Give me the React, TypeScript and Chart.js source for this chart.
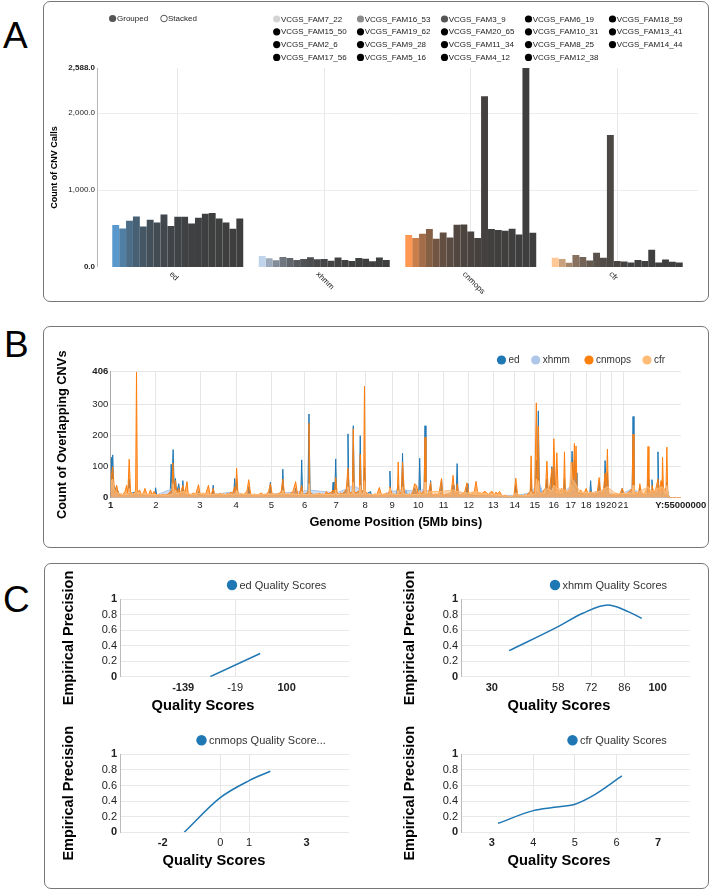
import React, { useEffect, useRef } from 'react';
import { Chart, registerables } from 'chart.js';
Chart.register(...registerables);

const FONT = "'Liberation Sans', Arial, Helvetica, sans-serif";

// ---------- Panel A data ----------
const categories = ['ed', 'xhmm', 'cnmops', 'cfr'];
const families = [
  'VCGS_FAM7_22', 'VCGS_FAM16_53', 'VCGS_FAM3_9', 'VCGS_FAM6_19', 'VCGS_FAM18_59',
  'VCGS_FAM15_50', 'VCGS_FAM19_62', 'VCGS_FAM20_65', 'VCGS_FAM10_31', 'VCGS_FAM13_41',
  'VCGS_FAM2_6', 'VCGS_FAM9_28', 'VCGS_FAM11_34', 'VCGS_FAM8_25', 'VCGS_FAM14_44',
  'VCGS_FAM17_56', 'VCGS_FAM5_16', 'VCGS_FAM4_12', 'VCGS_FAM12_38',
];
const edCalls = [545, 502, 602, 658, 528, 615, 580, 684, 532, 654, 654, 567, 641, 693, 701, 632, 580, 498, 632];
const xhmmCalls = [143, 113, 87, 130, 117, 91, 104, 126, 100, 104, 82, 125, 91, 78, 117, 108, 74, 125, 91];
const cnmopsCalls = [416, 377, 433, 494, 368, 450, 385, 550, 554, 463, 377, 2221, 494, 481, 472, 498, 424, 2588, 446];
const cfrCalls = [121, 103, 56, 155, 129, 86, 185, 121, 1716, 78, 73, 60, 91, 78, 224, 60, 99, 69, 60];
const callTicks = [0, 1000, 2000, 2588];

// ---------- Panel B data ----------
const chromTickBins = [0, 50, 99, 139, 178, 215, 250, 282, 312, 341, 369, 397, 424, 448, 470, 491, 510, 527, 543, 555, 568, 632];
const chromTickLabels = ['1', '2', '3', '4', '5', '6', '7', '8', '9', '10', '11', '12', '13', '14', '15', '16', '17', '18', '19', '20', '21', 'Y:55000000'];
const overlapTicks = [0, 100, 200, 300, 406];
const seriesNames = ['ed', 'xhmm', 'cnmops', 'cfr'];

const edOverlap = [
  [0, 5], [0.7, 130], [1.5, 60], [2.2, 138], [3.2, 40], [4.5, 35], [6, 20], [8, 22], [10, 8], [15, 6], [19.5, 10], [20.5, 60], [21.5, 12], [28.6, 20], [30, 8],
  [40, 6], [48.8, 6], [49.8, 32], [51, 8], [60, 5], [66, 15], [67, 108], [68, 50], [69.2, 155], [70.5, 20], [71.8, 62], [73, 15], [75.5, 45], [77, 8],
  [79, 10], [80, 55], [81, 8], [90, 6], [96.4, 8], [97.4, 20], [99, 8], [110, 6], [112.6, 8], [113.6, 40], [114.6, 8], [125, 5], [135, 8], [136.4, 10],
  [137.4, 62], [138.5, 20], [139.6, 60], [141, 8], [150, 6], [152, 8], [153, 35], [154, 8], [165, 5], [176, 8], [177, 50], [178, 8], [188, 8], [189.8, 10],
  [190.8, 92], [191.8, 10], [200, 6], [204, 8], [205, 30], [206, 8], [210.7, 10], [211.7, 122], [212.7, 10], [218.6, 15], [219.8, 270], [221, 15],
  [230, 6], [240, 6], [245.5, 8], [246.5, 50], [247.5, 15], [248.4, 15], [249.4, 125], [250.4, 10], [256, 8], [262, 25], [263, 206], [264, 15], [267.9, 15],
  [268.9, 232], [270, 15], [275.6, 15], [276.6, 200], [277.6, 15], [280.3, 15], [281.3, 100], [282.3, 10], [288, 20], [289.5, 5], [300, 6], [308.5, 15],
  [309.5, 86], [310.5, 10], [316, 8], [318.7, 40], [319.7, 10], [322.5, 15], [323.5, 143], [324.5, 15], [327, 25], [329, 8], [335, 10], [337, 30], [339, 10],
  [341.5, 12], [342.5, 127], [343.5, 10], [347.4, 15], [348.4, 232], [349.4, 15], [353.6, 10], [354.6, 55], [355.6, 8], [360, 6], [365.7, 8], [366.7, 60],
  [367.7, 8], [375, 6], [378.5, 8], [379.5, 40], [380.5, 8], [383, 10], [384, 110], [385, 8], [390, 6], [394, 8], [395, 45], [396, 10], [400, 8], [410, 6],
  [420, 8], [430, 5], [440, 3], [448, 4], [449, 40], [450, 5], [460, 4], [465, 6], [466, 60], [467, 10], [470.8, 20], [471.8, 120], [473, 80], [474, 280],
  [475, 50], [478, 10], [482.5, 10], [483.5, 60], [484.5, 10], [488, 20], [489, 100], [490, 30], [491.2, 100], [492.2, 15], [496, 10], [502, 10], [503, 60],
  [504, 10], [509, 20], [510.4, 30], [511.4, 150], [512.5, 40], [514, 120], [515.8, 80], [516.8, 15], [525, 10], [531, 10], [532, 55], [533, 10],
  [540.4, 10], [541.4, 50], [542.4, 15], [547, 15], [548, 120], [549.3, 30], [550.6, 80], [551.6, 10], [560, 6], [566, 8], [567, 30], [568, 8], [575, 10],
  [578, 12], [579, 262], [580, 15], [585.5, 10], [586.5, 35], [587.5, 10], [594.6, 10], [595.6, 60], [596.6, 10], [599, 10], [600, 58], [601, 15],
  [605.6, 15], [606.6, 148], [607.6, 15], [610.7, 10], [611.7, 50], [612.7, 10], [615.5, 10], [616.5, 50], [618, 5], [620, 0], [632, 0],
];
const xhmmOverlap = [
  [0, 10], [2, 40], [4, 15], [10, 5], [20, 10], [28.6, 15], [35, 5], [50, 8], [69, 30], [72, 20], [80, 15], [100, 5], [139, 20], [150, 5], [190, 15],
  [211, 20], [220, 25], [250, 15], [263, 30], [269, 40], [277, 25], [281, 15], [300, 5], [310, 20], [324, 25], [342, 20], [348, 30], [360, 5], [384, 20],
  [400, 5], [449, 8], [466, 15], [472, 40], [474, 55], [480, 10], [491, 30], [503, 20], [511, 40], [514, 25], [520, 8], [548, 25], [560, 5], [579, 30],
  [590, 8], [600, 15], [607, 25], [617, 20], [620, 0], [632, 0],
];
const cnmopsOverlap = [
  [0, 5], [0.7, 68], [2.2, 100], [4, 30], [5, 15], [6.6, 40], [8, 20], [10, 10], [12, 8], [14, 12], [16, 20], [17.6, 40], [19, 15], [20.5, 124], [22, 20],
  [24, 10], [26, 15], [27.6, 20], [28.6, 406], [29.6, 15], [32, 25], [34, 10], [36, 12], [38, 30], [40, 12], [42, 8], [44, 25], [46, 10], [48, 20], [50, 12], [52, 8],
  [54, 10], [56, 6], [58, 12], [60, 8], [62, 10], [64, 12], [66, 20], [67.9, 20], [68.9, 112], [70.5, 20], [71.8, 55], [73, 15], [75.5, 30], [77, 10], [80, 40], [82, 12],
  [84.6, 52], [86, 10], [88, 8], [90, 12], [92, 15], [94, 10], [97.4, 42], [99, 12], [101, 8], [103, 15], [105, 10], [108.4, 40], [110, 10], [112, 15],
  [113.6, 30], [115, 10], [117, 12], [119, 8], [121, 15], [123, 10], [125, 12], [127, 8], [129, 14], [131, 10], [133, 18], [135, 12], [137.4, 35],
  [138.5, 20], [139.6, 95], [141, 15], [143, 10], [145, 12], [147, 8], [149, 15], [151, 20], [153, 58], [155, 15], [157, 8], [159, 12], [161, 10], [163, 8],
  [165, 12], [167, 15], [169, 10], [171, 8], [173, 12], [175, 20], [177, 45], [179, 12], [181, 8], [183, 10], [185, 12], [187, 15], [189, 20], [190.8, 60],
  [192.5, 15], [194, 8], [196, 12], [198, 10], [200, 15], [202, 20], [205, 52], [207, 12], [209, 10], [211.7, 40], [213, 12], [215, 8], [217, 15], [218.8, 20],
  [219.8, 240], [220.8, 20], [223, 10], [225, 8], [227, 12], [229, 10], [231, 15], [233, 10], [235, 12], [237, 8], [239, 20], [241, 12], [243, 15], [245, 20],
  [246.5, 25], [248, 15], [249.4, 65], [251, 15], [253, 10], [255, 15], [257, 12], [259, 20], [261, 25], [263, 95], [264.5, 20], [266, 15], [267.9, 20], [268.9, 222],
  [269.9, 20], [272, 15], [274, 20], [275.6, 20], [276.6, 140], [277.6, 20], [280.3, 25], [281.3, 360], [282.3, 20], [285, 12], [287, 10], [289, 8], [291, 10], [293, 12],
  [295, 10], [297.8, 33], [300, 10], [302, 8], [304, 12], [306, 15], [308, 10], [309.5, 35], [312, 10], [314, 12], [316, 8], [317.7, 10], [318.7, 115], [319.7, 10],
  [322, 20], [323.5, 115], [325.5, 15], [327, 10], [329, 8], [331, 12], [333, 10], [335, 20], [337, 45], [339, 40], [341, 12], [342.5, 20], [344, 10],
  [346, 20], [347.4, 20], [348.4, 195], [349.4, 15], [352, 10], [354.6, 50], [356, 10], [358, 8], [360, 12], [362, 10], [364, 15], [366.7, 62], [368, 10], [370, 8],
  [372, 12], [374, 10], [376, 15], [377.5, 20], [379.5, 72], [381, 15], [382.5, 10], [384, 45], [386, 10], [388, 8], [390, 12], [392, 15], [395, 48],
  [397, 12], [399, 10], [401, 15], [403, 20], [405, 53], [407, 12], [409, 15], [411, 10], [413, 18], [415, 20], [417, 15], [419, 10], [421, 18], [423, 20],
  [425, 8], [427, 18], [429, 12], [431, 20], [433, 10], [435, 5], [437, 8], [439, 5], [441, 3], [443, 5], [445, 3], [447, 8], [449, 63], [451, 10], [453, 5],
  [455, 8], [457, 4], [459, 10], [461, 6], [463, 15], [465, 20], [466, 135], [467, 20], [470, 15], [471.8, 306], [473, 40], [474, 230], [475, 20], [478, 10], [480, 25],
  [482, 30], [483.5, 118], [485, 15], [487, 40], [489, 95], [490, 30], [491.2, 190], [493, 20], [494.5, 145], [496, 15], [498, 20], [500, 30], [502, 20], [503, 148],
  [504, 15], [507, 20], [509, 30], [511.4, 115], [512.5, 40], [514, 175], [515, 60], [515.8, 167], [517, 20], [519, 15], [521, 25], [523, 12], [525, 15],
  [527, 30], [529, 12], [532, 20], [534, 15], [536, 10], [538, 15], [539.5, 20], [541.4, 65], [543, 20], [545, 12], [546.5, 30], [548, 80], [549.3, 30],
  [550.6, 157], [551.6, 15], [554, 8], [556, 12], [558, 10], [560, 15], [562, 10], [564, 8], [565.5, 20], [567, 30], [569, 12], [571, 10], [573, 15], [575, 20],
  [578, 30], [579, 205], [580, 20], [583, 15], [585, 10], [586.5, 45], [588, 20], [590, 10], [592, 15], [594.6, 30], [595.6, 165], [596.6, 15], [599, 20],
  [600, 40], [602, 15], [604, 25], [606.6, 60], [608, 20], [610, 55], [611, 20], [611.7, 130], [612.7, 25], [615.5, 30], [616.5, 163], [617.5, 10], [620, 0], [632, 0],
];
const cfrOverlap = [
  [0, 20], [0.7, 55], [2.2, 60], [4, 25], [8, 15], [15, 10], [19.5, 12], [20.5, 30], [21.5, 12], [25, 12], [27.6, 15], [28.6, 25], [29.6, 15], [32, 15],
  [40, 12], [50, 10], [60, 8], [68, 10], [69, 45], [70.5, 15], [72, 25], [73, 12], [80, 20], [90, 10], [100, 15], [110, 10], [120, 12], [130, 10],
  [138.6, 12], [139.6, 25], [140.6, 12], [150, 12], [160, 10], [175, 12], [189.8, 12], [190.8, 25], [191.8, 12], [200, 12], [210.7, 10], [211.7, 20],
  [212.7, 10], [218.8, 10], [219.8, 45], [220.8, 10], [230, 12], [240, 10], [248.4, 10], [249.4, 25], [250.4, 10], [262, 12], [263, 35], [264, 12],
  [267.9, 12], [268.9, 50], [269.9, 12], [275.6, 12], [276.6, 40], [277.6, 12], [280.3, 12], [281.3, 55], [282.3, 12], [290, 10], [300, 12], [308.5, 12],
  [309.5, 30], [310.5, 12], [317.7, 10], [318.7, 25], [319.7, 10], [322.5, 12], [323.5, 35], [324.5, 12], [330, 10], [341.5, 10], [342.5, 25], [343.5, 10],
  [347.4, 12], [348.4, 50], [349.4, 12], [354.6, 20], [366.7, 20], [379.5, 25], [384, 20], [395, 15], [405, 20], [415, 12], [425, 10], [435, 6], [445, 4],
  [449, 15], [455, 6], [465, 8], [466, 20], [467, 8], [470.8, 15], [471.8, 60], [473, 20], [474, 55], [475, 15], [480, 15], [483.5, 30], [489, 20],
  [491.2, 40], [494.5, 30], [503, 25], [509, 20], [510, 115], [511.4, 60], [514, 50], [520, 20], [530, 15], [541.4, 20], [548, 30], [550.6, 35], [560, 12],
  [570, 15], [578, 12], [579, 40], [580, 12], [586.5, 20], [595.6, 35], [600, 20], [606.6, 30], [611.7, 35], [615.5, 12], [616.5, 40], [618, 5], [620, 0], [632, 0],
];

// ---------- Panel C data ----------
const precisionTicks = [0, 0.2, 0.4, 0.6, 0.8, 1];
const edQualityX = [-76.8, 38.8];
const edPrecisionY = [0, 0.3];
const edQualityTicks = [-139, -19, 100];
const xhmmQualityX = [37.3, 58, 68.4, 79, 86, 93.3];
const xhmmPrecisionY = [0.336, 0.647, 0.819, 0.925, 0.862, 0.754];
const xhmmQualityTicks = [30, 58, 72, 86, 100];
const cnmopsQualityX = [-1.25, 0, 1, 1.74];
const cnmopsPrecisionY = [0, 0.444, 0.662, 0.782];
const cnmopsQualityTicks = [-2, 0, 1, 3];
const cfrQualityX = [3.15, 4, 4.5, 5, 5.5, 6.13];
const cfrPrecisionY = [0.115, 0.278, 0.32, 0.36, 0.49, 0.722];
const cfrQualityTicks = [3, 4, 5, 6, 7];

// ---------- styling helpers ----------
const barBaseColors = [[88, 152, 204], [192, 212, 236], [255, 152, 82], [255, 200, 150]];
const barDark = [62, 62, 62];
function barColor(c: number, i: number) {
  const t = 1 - Math.pow(0.72, i);
  const rgb = barBaseColors[c].map((v, k) => Math.round(v + (barDark[k] - v) * t));
  return `rgb(${rgb[0]},${rgb[1]},${rgb[2]})`;
}
function legendColor(i: number) {
  return i === 0 ? '#d4d4d4' : i === 1 ? '#8c8c8c' : i === 2 ? '#555555' : '#000000';
}
function dot(ctx: CanvasRenderingContext2D, x: number, y: number, r: number, color: string, filled = true) {
  ctx.beginPath();
  ctx.arc(x, y, r, 0, Math.PI * 2);
  if (filled) {
    ctx.fillStyle = color;
    ctx.fill();
  } else {
    ctx.lineWidth = 1;
    ctx.strokeStyle = color;
    ctx.stroke();
  }
}
const transparent = 'rgba(0,0,0,0)';

function useChart(make: (el: HTMLCanvasElement) => Chart) {
  const ref = useRef<HTMLCanvasElement>(null);
  useEffect(() => {
    if (!ref.current) return;
    const chart = make(ref.current);
    return () => chart.destroy();
  }, []);
  return ref;
}

function Box({ left, top, width, height, children }: any) {
  return <div style={{ position: 'absolute', left, top, width, height }}>{children}</div>;
}

// ---------- Panel A ----------
function PanelA() {
  const W = 664, H = 298, OX = 44, OY = 2;
  const ref = useChart((el) => {
    const perCat = [edCalls, xhmmCalls, cnmopsCalls, cfrCalls];
    const datasets = families.map((name, i) => ({
      label: name,
      data: categories.map((_, c) => perCat[c][i]),
      backgroundColor: categories.map((_, c) => barColor(c, i)),
      borderWidth: 0,
      categoryPercentage: 0.894,
      barPercentage: 1,
    }));
    const plugin = {
      id: 'panelA',
      beforeDatasetsDraw(chart: any) {
        const { ctx, chartArea: a, scales } = chart;
        ctx.save();
        ctx.lineWidth = 1;
        ctx.strokeStyle = '#ececec';
        [1000, 2000].forEach((v) => {
          const py = Math.round(scales.y.getPixelForValue(v)) + 0.5;
          ctx.beginPath(); ctx.moveTo(a.left - 7.5, py); ctx.lineTo(a.right + 7.5, py); ctx.stroke();
        });
        ctx.strokeStyle = '#b5b5b5';
        const ax = Math.round(a.left - 7.5) + 0.5;
        ctx.beginPath(); ctx.moveTo(ax, a.top); ctx.lineTo(ax, a.bottom); ctx.stroke();
        ctx.restore();
      },
      afterDraw(chart: any) {
        const { ctx, scales } = chart;
        ctx.save();
        ctx.font = `8px ${FONT}`;
        ctx.textBaseline = 'middle';
        ctx.textAlign = 'left';
        dot(ctx, 112.6 - OX, 18.5 - OY, 3.6, '#555');
        ctx.fillStyle = '#222';
        ctx.fillText('Grouped', 117 - OX, 18.7 - OY);
        dot(ctx, 164 - OX, 18.5 - OY, 3.3, '#555', false);
        ctx.fillStyle = '#222';
        ctx.fillText('Stacked', 168 - OX, 18.7 - OY);
        const colX = [276.7, 360.5, 444.5, 528.5, 612.5];
        const rowY = [19, 31.8, 44.6, 57.4];
        families.forEach((name, i) => {
          const cx = colX[i % 5] - OX, cy = rowY[Math.floor(i / 5)] - OY;
          dot(ctx, cx, cy, 3.6, legendColor(i));
          ctx.fillStyle = '#222';
          ctx.fillText(name, cx + 4.2, cy + 0.3);
        });
        categories.forEach((c, i) => {
          const px = scales.x.getPixelForValue(i);
          ctx.save();
          ctx.translate(px - 7, 273 - OY);
          ctx.rotate(Math.PI / 4);
          ctx.fillStyle = '#222';
          ctx.fillText(c, 0, 0);
          ctx.restore();
        });
        ctx.restore();
      },
    };
    return new Chart(el, {
      type: 'bar',
      data: { labels: categories, datasets },
      options: {
        animation: false,
        responsive: true,
        maintainAspectRatio: false,
        layout: { padding: { top: 66, right: 17.5, left: 0, bottom: 0 } },
        plugins: { legend: { display: false }, tooltip: { enabled: false } },
        scales: {
          x: {
            offset: true,
            grid: { offset: false, color: '#e8e8e8', drawTicks: false },
            border: { display: false },
            ticks: { display: false },
            afterFit: (s: any) => { s.height = 33; },
          },
          y: {
            min: 0,
            max: 2588,
            afterBuildTicks: (s: any) => { s.ticks = callTicks.map((v) => ({ value: v })); },
            grid: { display: false, drawTicks: false },
            border: { display: false },
            ticks: {
              autoSkip: false,
              padding: 9.5,
              color: '#222',
              font: (c: any) => ({ family: FONT, size: 8, weight: c.index === 0 || c.index === callTicks.length - 1 ? 'bold' : 'normal' }),
              callback: (v: any) => Number(v).toLocaleString('en-US', { minimumFractionDigits: 1, maximumFractionDigits: 1 }),
            },
            title: { display: true, text: 'Count of CNV Calls', color: '#000', font: { family: FONT, size: 9, weight: 'bold' }, padding: { top: 5.6, bottom: 0 } },
            afterFit: (s: any) => { s.width = 60.5; },
          },
        },
      },
      plugins: [plugin],
    } as any);
  });
  return (
    <Box left={OX} top={OY} width={W} height={H}>
      <canvas ref={ref} />
    </Box>
  );
}

// ---------- Panel B ----------
function PanelB() {
  const W = 664, H = 219, OX = 44, OY = 327;
  const ref = useChart((el) => {
    const series = [
      { pts: edOverlap, color: '#1f77b4', fill: 'rgba(31,119,180,0.65)', order: 4 },
      { pts: xhmmOverlap, color: '#aec7e8', fill: 'rgba(174,199,232,0.6)', order: 3 },
      { pts: cnmopsOverlap, color: '#ff7f0e', fill: 'rgba(255,127,14,0.6)', order: 2 },
      { pts: cfrOverlap, color: '#ffbb78', fill: 'rgba(255,187,120,0.55)', order: 1 },
    ];
    const legendPos = [501.5, 535.7, 589, 647];
    const plugin = {
      id: 'panelB',
      afterDraw(chart: any) {
        const { ctx } = chart;
        ctx.save();
        ctx.font = `10px ${FONT}`;
        ctx.textBaseline = 'middle';
        ctx.textAlign = 'left';
        seriesNames.forEach((n, i) => {
          const cx = legendPos[i] - OX, cy = 360 - OY;
          dot(ctx, cx, cy, 4.6, series[i].color);
          ctx.fillStyle = '#333';
          ctx.fillText(n, cx + 7, cy + 0.5);
        });
        ctx.restore();
      },
    };
    return new Chart(el, {
      type: 'line',
      data: {
        datasets: series.map((s, i) => ({
          label: seriesNames[i],
          data: s.pts.map(([x, y]) => ({ x, y })),
          borderColor: s.color,
          backgroundColor: s.fill,
          borderWidth: 1,
          pointRadius: 0,
          fill: 'origin',
          tension: 0,
          order: s.order,
        })),
      },
      options: {
        animation: false,
        responsive: true,
        maintainAspectRatio: false,
        layout: { padding: { top: 44.8, right: 24.3, left: 0, bottom: 0 } },
        plugins: { legend: { display: false }, tooltip: { enabled: false } },
        scales: {
          x: {
            type: 'linear',
            min: 0,
            max: 632,
            afterBuildTicks: (s: any) => { s.ticks = chromTickBins.map((v) => ({ value: v })); },
            ticks: {
              autoSkip: false, maxRotation: 0, minRotation: 0, padding: 1.6, color: '#222',
              callback: (_v: any, i: number) => chromTickLabels[i],
              font: (c: any) => ({ family: FONT, size: 9.5, weight: c.index === 0 || c.index === chromTickLabels.length - 1 ? 'bold' : 'normal' }),
            },
            grid: { drawTicks: false, color: (c: any) => (c.index > 0 && c.index < chromTickBins.length - 1 ? '#e6e6e6' : transparent) },
            border: { display: false },
            title: { display: true, text: 'Genome Position (5Mb bins)', color: '#000', font: { family: FONT, size: 12.8, weight: 'bold' }, padding: { top: 0, bottom: 16.2 } },
            afterFit: (s: any) => { s.height = 48.3; },
          },
          y: {
            min: 0,
            max: 406,
            afterBuildTicks: (s: any) => { s.ticks = overlapTicks.map((v) => ({ value: v })); },
            ticks: {
              autoSkip: false,
              padding: 2.5, color: '#222',
              callback: (v: any) => String(v),
              font: (c: any) => ({ family: FONT, size: 9.5, weight: c.index === 0 || c.index === overlapTicks.length - 1 ? 'bold' : 'normal' }),
            },
            grid: { drawTicks: false, color: '#e6e6e6' },
            border: { display: true, color: '#aaa' },
            title: { display: true, text: 'Count of Overlapping CNVs', color: '#000', font: { family: FONT, size: 12.8, weight: 'bold' }, padding: { top: 10.3, bottom: 0 } },
            afterFit: (s: any) => { s.width = 66.7; },
          },
        },
      },
      plugins: [plugin],
    } as any);
  });
  return (
    <Box left={OX} top={OY} width={W} height={H}>
      <canvas ref={ref} />
    </Box>
  );
}

// ---------- Panel C ----------
function QualityChart(p: any) {
  const { left, top, width, height, plotLeft, plotRight, plotTop, plotBottom, xs, ys, xTicks, xMin, xMax, legend, legendX, legendY, titleX, titleY, yTitlePad, tickPad } = p;
  const ref = useChart((el) => {
    const plugin = {
      id: 'qc',
      afterDraw(chart: any) {
        const { ctx } = chart;
        ctx.save();
        dot(ctx, legendX - left, legendY - top, 5.2, '#1f77b4');
        ctx.font = `11px ${FONT}`;
        ctx.fillStyle = '#333';
        ctx.textBaseline = 'middle';
        ctx.textAlign = 'left';
        ctx.fillText(legend, legendX - left + 7.5, legendY - top + 0.5);
        ctx.font = `bold 14.7px ${FONT}`;
        ctx.fillStyle = '#000';
        ctx.textAlign = 'center';
        ctx.fillText('Quality Scores', titleX - left, titleY - top);
        ctx.restore();
      },
    };
    return new Chart(el, {
      type: 'line',
      data: {
        datasets: [{
          label: legend,
          data: xs.map((x: number, i: number) => ({ x, y: ys[i] })),
          borderColor: '#1f77b4',
          borderWidth: 1.5,
          pointRadius: 0,
          fill: false,
          cubicInterpolationMode: 'monotone',
        }],
      },
      options: {
        animation: false,
        responsive: true,
        maintainAspectRatio: false,
        layout: { padding: { top: plotTop - top, right: left + width - plotRight, left: 0, bottom: 0 } },
        plugins: { legend: { display: false }, tooltip: { enabled: false } },
        scales: {
          x: {
            type: 'linear',
            min: xMin,
            max: xMax,
            afterBuildTicks: (s: any) => { s.ticks = xTicks.map((v: number) => ({ value: v })); },
            ticks: {
              autoSkip: false, maxRotation: 0, minRotation: 0, padding: tickPad, color: '#222',
              callback: (v: any) => String(v),
              font: (c: any) => ({ family: FONT, size: 11, weight: c.index === 0 || c.index === xTicks.length - 1 ? 'bold' : 'normal' }),
            },
            grid: { drawTicks: false, color: (c: any) => (c.index > 0 && c.index < xTicks.length - 1 ? '#e6e6e6' : transparent) },
            border: { display: false },
            afterFit: (s: any) => { s.height = top + height - plotBottom; },
          },
          y: {
            min: 0,
            max: 1,
            afterBuildTicks: (s: any) => { s.ticks = precisionTicks.map((v) => ({ value: v })); },
            ticks: {
              autoSkip: false,
              padding: 3, color: '#222',
              callback: (v: any) => String(v),
              font: (c: any) => ({ family: FONT, size: 11, weight: c.index === 0 || c.index === precisionTicks.length - 1 ? 'bold' : 'normal' }),
            },
            grid: { drawTicks: false, color: '#e8e8e8' },
            border: { display: true, color: '#bbb' },
            title: { display: true, text: 'Empirical Precision', color: '#000', font: { family: FONT, size: 14.5, weight: 'bold' }, padding: { top: yTitlePad, bottom: 0 } },
            afterFit: (s: any) => { s.width = plotLeft - left; },
          },
        },
      },
      plugins: [plugin],
    } as any);
  });
  return (
    <Box left={left} top={top} width={width} height={height}>
      <canvas ref={ref} />
    </Box>
  );
}

function PanelC() {
  const leftCol = { left: 46, width: 320, plotLeft: 120, plotRight: 349, yTitlePad: 14.3 };
  const rightCol = { left: 390, width: 320, plotLeft: 461, plotRight: 689.6, yTitlePad: 10.9 };
  const topRow = { top: 565, height: 155, plotTop: 599.3, plotBottom: 676.7, legendY: 585, titleY: 705.7, tickPad: 4.4 };
  const botRow = { top: 720, height: 160, plotTop: 754.3, plotBottom: 832.3, legendY: 740.3, titleY: 861, tickPad: 4.1 };
  return (
    <>
      <QualityChart {...leftCol} {...topRow} xs={edQualityX} ys={edPrecisionY} xTicks={edQualityTicks} xMin={-285} xMax={244}
        legend="ed Quality Scores" legendX={232} titleX={203} />
      <QualityChart {...rightCol} {...topRow} xs={xhmmQualityX} ys={xhmmPrecisionY} xTicks={xhmmQualityTicks} xMin={17} xMax={113.5}
        legend="xhmm Quality Scores" legendX={555} titleX={559} />
      <QualityChart {...leftCol} {...botRow} xs={cnmopsQualityX} ys={cnmopsPrecisionY} xTicks={cnmopsQualityTicks} xMin={-3.48} xMax={4.47}
        legend="cnmops Quality Score..." legendX={201.5} titleX={214} />
      <QualityChart {...rightCol} {...botRow} xs={cfrQualityX} ys={cfrPrecisionY} xTicks={cfrQualityTicks} xMin={2.26} xMax={7.76}
        legend="cfr Quality Scores" legendX={572.5} titleX={559} />
    </>
  );
}

const frame = { position: 'absolute' as const, border: '1.5px solid #777', borderRadius: 7, boxSizing: 'border-box' as const };
const letter = { position: 'absolute' as const, fontFamily: FONT, fontSize: 37, lineHeight: '37px', color: '#000' };

export default function App() {
  return (
    <div style={{ position: 'absolute', left: 0, top: 0, width: 718, height: 889, overflow: 'hidden', background: '#fff' }}>
      <div style={{ ...frame, left: 43, top: 1, width: 666, height: 301 }} />
      <div style={{ ...frame, left: 43, top: 326, width: 666, height: 221.5 }} />
      <div style={{ ...frame, left: 43.5, top: 563, width: 665.5, height: 325.5 }} />
      <div style={{ ...letter, left: 3, top: 17 }}>A</div>
      <div style={{ ...letter, left: 4, top: 326 }}>B</div>
      <div style={{ ...letter, left: 3, top: 580.5 }}>C</div>
      <PanelA />
      <PanelB />
      <PanelC />
    </div>
  );
}
